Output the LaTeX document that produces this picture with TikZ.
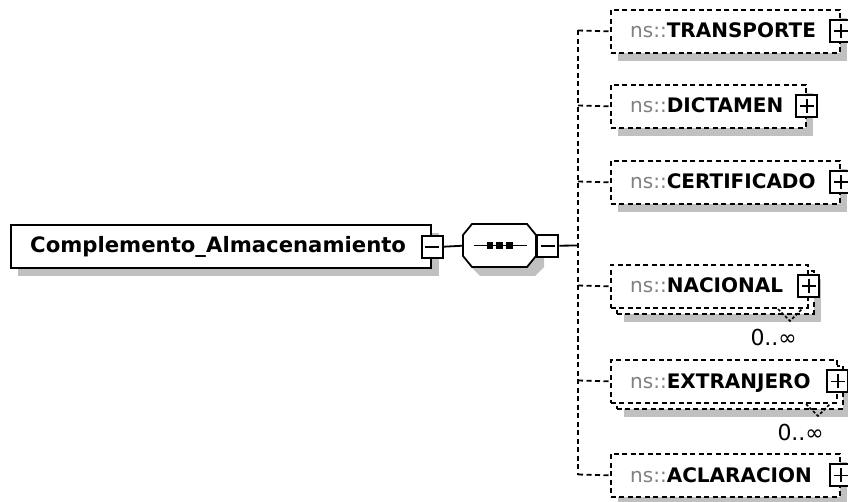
\documentclass[tikz,border=0pt]{standalone}
\usepackage{fontspec}
\setmainfont{DejaVu Sans}
\definecolor{shgray}{RGB}{192,192,192}
\definecolor{nsgray}{RGB}{128,128,128}
\newcommand\nsx{{\color{nsgray}\mdseries ns::}}
\begin{document}
\begin{tikzpicture}[x=1pt,y=-1pt,
  conn/.style={line width=1.8pt},
  dconn/.style={line width=1.8pt, dash pattern=on 5pt off 3.5pt},
  elbox/.style={draw, fill=white, line width=1.8pt, dash pattern=on 5pt off 3.5pt, inner sep=0, anchor=north west, minimum height=43pt},
  rootbox/.style={draw, fill=white, line width=2.4pt, inner sep=0, anchor=north west, minimum height=43pt},
  btn/.style={draw, fill=white, solid, line width=2pt, inner sep=0, minimum width=21pt, minimum height=22pt},
  minusbtn/.style={btn, path picture={\draw[line width=1.8pt] ([xshift=-7pt]path picture bounding box.center) -- ([xshift=7pt]path picture bounding box.center);}},
  plusbtn/.style={btn, path picture={\draw[line width=1.8pt] ([xshift=-7pt]path picture bounding box.center) -- ([xshift=7pt]path picture bounding box.center); \draw[line width=1.8pt] ([yshift=-7pt]path picture bounding box.center) -- ([yshift=7pt]path picture bounding box.center);}},
  lbl/.style={inner sep=0, anchor=base west, font=\fontsize{20}{24}\selectfont\bfseries},
  rootlbl/.style={inner sep=0, anchor=base west, font=\fontsize{21.2}{25}\selectfont\bfseries},
  occ/.style={inner sep=0, anchor=base east, font=\fontsize{22}{26}\selectfont},
  vnotch/.style={line width=1.5pt, dash pattern=on 3pt off 2pt},
]
\useasboundingbox (0,0) rectangle (848,502);

% ---------- root element ----------
\fill[shgray] (18,233) rectangle (439,276);
\node[rootbox, minimum width=420pt] (root) at (10,224) {};
\node[rootlbl] (roott) at (30,253) {Complemento\_Almacenamiento};
\node[minusbtn] (rootbtn) at (root.east) {};

% ---------- sequence compositor ----------
\fill[shgray] (480,233) -- (535,233) -- (544,244) -- (544,267) -- (535,276) -- (480,276) -- (471,267) -- (471,244) -- cycle;
\node[inner sep=0, minimum width=73pt, minimum height=43pt, anchor=north west] (seq) at (463,224) {};
\draw[line width=1.8pt, fill=white] (472,224) -- (527,224) -- (536,235) -- (536,256) -- (527,267) -- (472,267) -- (463,256) -- (463,235) -- cycle;
\draw[line width=1.8pt] (474,245.5) -- (527,245.5);
\foreach \cx in {490,499.5,509.5} \fill (\cx-3.2,242.3) rectangle (\cx+3.2,248.7);
\node[minusbtn, anchor=west] (seqbtn) at (seq.east) {};
\draw[conn] (rootbtn.east) -- (seq.west);

% ---------- children ----------
% shadows
\fill[shgray] (618,18) rectangle (847,61);
\fill[shgray] (618,93) rectangle (813,136);
\fill[shgray] (618,169) rectangle (847,212);
\fill[shgray] (624,279) rectangle (821,322);
\fill[shgray] (624,374) rectangle (850,417);
\fill[shgray] (618,462) rectangle (847,505);

% TRANSPORTE
\node[elbox, minimum width=229pt] (transp) at (610,9) {};
\node[lbl] (transpt) at (630,38) {\nsx TRANSPORTE};
\node[plusbtn] (transpb) at (transp.east) {};

% DICTAMEN
\node[elbox, minimum width=195pt] (dict) at (610,84) {};
\node[lbl] (dictt) at (630,113) {\nsx DICTAMEN};
\node[plusbtn] (dictb) at (dict.east) {};

% CERTIFICADO
\node[elbox, minimum width=229pt] (cert) at (610,160) {};
\node[lbl] (certt) at (630,189) {\nsx CERTIFICADO};
\node[plusbtn] (certb) at (cert.east) {};

% NACIONAL (multiple)
\node[elbox, minimum width=197pt] (nacb) at (616,270) {};
\node[elbox, minimum width=197pt] (nac) at (610,264) {};
\node[lbl] (nact) at (630,293) {\nsx NACIONAL};
\node[plusbtn] (nacbt) at (nac.east) {};
\coordinate (nacv) at (790,309);
\draw[vnotch] ([xshift=-12pt]nacv) -- ++(12,12) -- ++(12,-12);
\node[occ] (nacocc) at (797,345) {0..∞};

% EXTRANJERO (multiple)
\node[elbox, minimum width=226pt] (extb) at (616,365) {};
\node[elbox, minimum width=226pt] (ext) at (610,359) {};
\node[lbl] (extt) at (630,388) {\nsx EXTRANJERO};
\node[plusbtn] (extbt) at (ext.east) {};
\coordinate (extv) at (818,404);
\draw[vnotch] ([xshift=-12pt]extv) -- ++(12,12) -- ++(12,-12);
\node[occ] (extocc) at (824,440) {0..∞};

% ACLARACION
\node[elbox, minimum width=229pt] (acla) at (610,453) {};
\node[lbl] (aclat) at (630,482) {\nsx ACLARACION};
\node[plusbtn] (aclab) at (acla.east) {};

% ---------- connectors ----------
\coordinate (sptop) at (578,30.5);
\coordinate (spmid) at (578,245.5);
\coordinate (spbot) at (578,474.5);
\draw[conn] (seqbtn.east) -- (spmid);
\draw[dconn] (sptop) -- (spbot);
\draw[dconn] (sptop) -- (transp.west);
\draw[dconn] (578,105.5) -- (dict.west);
\draw[dconn] (578,181.5) -- (cert.west);
\draw[dconn] (578,285.5) -- (nac.west);
\draw[dconn] (578,380.5) -- (ext.west);
\draw[dconn] (spbot) -- (acla.west);
\end{tikzpicture}
\end{document}
